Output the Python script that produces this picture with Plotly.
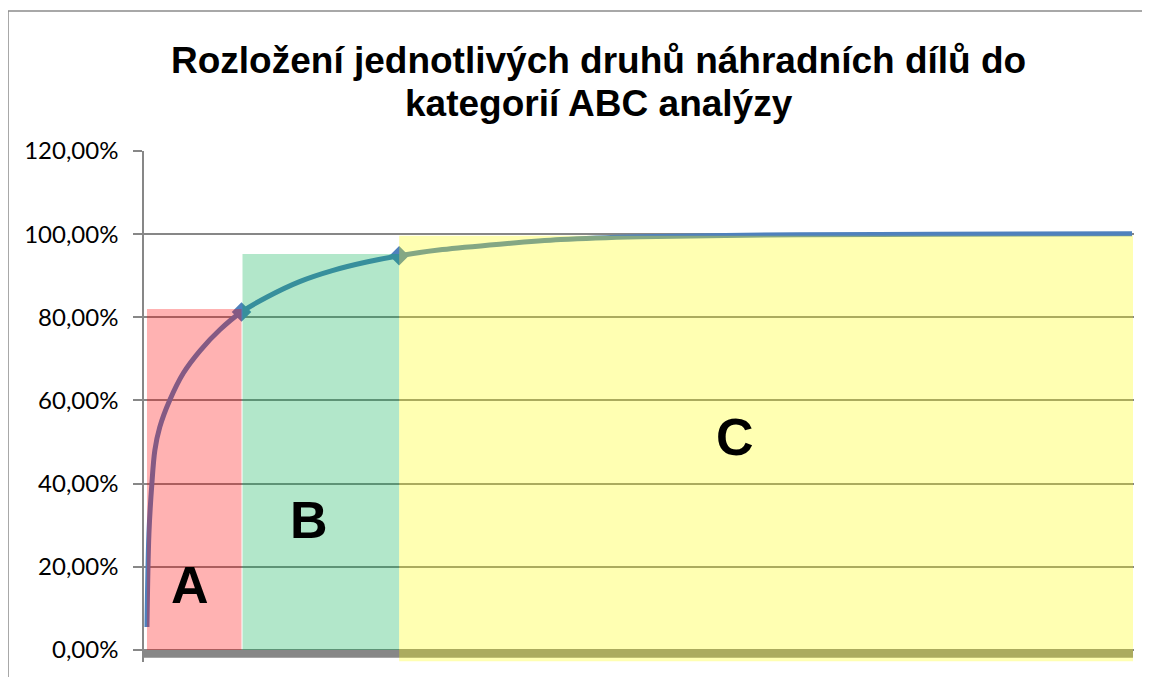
import plotly.graph_objects as go

# ---- data ----
x_items = [0, 0.2, 0.5, 0.8, 1.3, 2.3, 3.7, 5.4, 7.4, 9.6,
           12.2, 15.5, 18.9, 22.3, 25.6,
           30, 35.8, 42, 50, 66, 80, 100]
cum_pct = [5.5, 28, 40, 48, 53.6, 60, 66.6, 72, 77, 81.3,
           84.9, 88.6, 91.3, 93.3, 94.8,
           96.3, 97.6, 98.7, 99.4, 99.85, 99.95, 100.1]
marker_x = [9.6, 25.6]
marker_y = [81.3, 94.8]

categories = ["A", "B", "C"]
cat_x0 = [0, 9.7, 25.6]
cat_x1 = [9.6, 25.6, 100.1]
cat_top = [82, 95.2, 99.6]
cat_bottom = [0, 0, -2.7]
cat_colors = ["#FF0000", "#00B050", "#FFFF00"]
label_x = [4.4, 16.5, 59.7]
label_y = [15.6, 31.2, 51.2]

y_tick_vals = [0, 20, 40, 60, 80, 100, 120]
y_tick_labels = ["0,00%", "20,00%", "40,00%", "60,00%", "80,00%", "100,00%", "120,00%"]

title_lines = ["Rozložení jednotlivých druhů náhradních dílů do", "kategorií ABC analýzy"]

# screen geometry of the plot area (page has an 8px body margin)
SL, SR, ST, SB = 144, 1134, 151, 662
OFF = 8


def to_paper(sx, sy):
    return (sx - SL) / (SR - SL), (SB - sy) / (SB - ST)


fig = go.Figure()
fig.add_trace(go.Scatter(
    x=x_items, y=cum_pct, mode="lines",
    line=dict(color="#4F81BD", width=5, shape="spline", smoothing=0.9),
    showlegend=False, hoverinfo="skip"))
fig.add_trace(go.Scatter(
    x=marker_x, y=marker_y, mode="markers",
    marker=dict(symbol="diamond", size=15, color="#4F81BD"),
    showlegend=False, hoverinfo="skip"))

shapes = []
# thick axis bar
shapes.append(dict(type="rect", xref="x", yref="y", x0=-0.4, x1=100.1, y0=-1.9, y1=0,
                   fillcolor="#878787", line=dict(width=0), layer="above"))
for c, x0, x1, y0, y1, col in zip(categories, cat_x0, cat_x1, cat_bottom, cat_top, cat_colors):
    shapes.append(dict(type="rect", xref="x", yref="y", x0=x0, x1=x1, y0=y0, y1=y1,
                       fillcolor=col, opacity=0.3, line=dict(width=0), layer="above"))
# outer border
bx0, by1 = to_paper(8, 11)
bx1, by0 = to_paper(1200, 720)
shapes.append(dict(type="rect", xref="paper", yref="paper", x0=bx0, x1=bx1, y0=by0, y1=by1,
                   line=dict(color="#8C8C8C", width=1.5), fillcolor="rgba(0,0,0,0)", layer="below"))

annotations = []
for c, lx, ly in zip(categories, label_x, label_y):
    annotations.append(dict(x=lx, y=ly, xref="x", yref="y", text="<b>" + c + "</b>", showarrow=False,
                            font=dict(family="Liberation Sans, Arial", size=52, color="black"),
                            xanchor="center", yanchor="middle"))
for t, sy in zip(title_lines, [61, 104]):
    px, py = to_paper(598.5, sy)
    annotations.append(dict(x=px, y=py, xref="paper", yref="paper",
                            text="<b>" + t + "</b>", showarrow=False,
                            font=dict(family="Liberation Sans, Arial", size=37, color="black"),
                            xanchor="center", yanchor="middle"))

fig.update_layout(
    width=1150, height=677,
    margin=dict(l=SL - OFF, r=1150 - (SR - OFF), t=ST - OFF, b=677 - (SB - OFF)),
    paper_bgcolor="white", plot_bgcolor="white",
    shapes=shapes, annotations=annotations,
    xaxis=dict(range=[-0.3, 100.2], showgrid=False, zeroline=False, showticklabels=False,
               showline=False, ticks=""),
    yaxis=dict(range=[-2.9, 120], tickvals=y_tick_vals, ticktext=y_tick_labels,
               showgrid=True, gridcolor="#878787", gridwidth=1.5, zeroline=False,
               showline=True, linecolor="#878787", linewidth=1.5,
               ticks="outside", ticklen=9, tickcolor="#878787", tickwidth=1.5,
               ticklabelstandoff=10,
               tickfont=dict(family="Lato", size=24, color="black")),
)

fig.write_html("out.html")
